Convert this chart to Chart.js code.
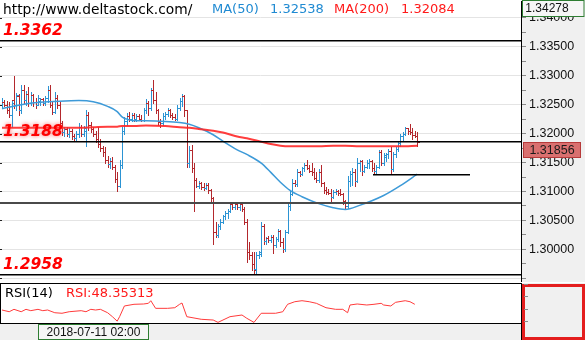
<!DOCTYPE html>
<html>
<head>
<meta charset="utf-8">
<script src="https://cdn.jsdelivr.net/npm/chart.js@4.4.1/dist/chart.umd.min.js"></script>
<style>
  html, body { margin: 0; padding: 0; background: #fff; }
  #wrap { position: relative; width: 585px; height: 340px; overflow: hidden; background: #fff; }
  canvas { position: absolute; left: 0; }
  #main { top: 0; }
  #rsi { top: 283px; }
  .t { position: absolute; font-family: "DejaVu Sans", sans-serif; font-size: 13px; line-height: 16px; white-space: nowrap; }
</style>
</head>
<body>
<div id="wrap">
  <canvas id="main" width="585" height="282"></canvas>
  <canvas id="rsi" width="585" height="57"></canvas>
  <div class="t" style="left:3px;top:1px;color:#000;font-size:13.8px">http://www.deltastock.com/</div>
  <div class="t" style="left:212px;top:1px;color:#1f8ad2">MA(50)</div>
  <div class="t" style="left:270px;top:1px;color:#1f8ad2" id="ma50Read"></div>
  <div class="t" style="left:334px;top:1px;color:#ff1a1a">MA(200)</div>
  <div class="t" style="left:401px;top:1px;color:#ff1a1a" id="ma200Read"></div>
  <div class="t" style="left:5px;top:285px;color:#000">RSI(14)</div>
  <div class="t" style="left:66px;top:285px;color:#ff1a1a" id="rsiRead"></div>
</div>
<script>
// GBP/USD hourly bars
const opens = [
  1.3250,1.3255,1.3250,1.3240,1.3232,1.3258,1.3250,1.3265,1.3240,1.3276,
  1.3258,1.3268,1.3252,1.3266,1.3255,1.3250,1.3256,1.3260,1.3253,1.3262,
  1.3275,1.3250,1.3238,1.3262,1.3250,1.3218,1.3203,1.3208,1.3200,1.3205,
  1.3195,1.3192,1.3200,1.3212,1.3200,1.3205,1.3232,1.3215,1.3208,1.3200,
  1.3190,1.3182,1.3175,1.3168,1.3155,1.3148,1.3152,1.3142,1.3122,1.3110,
  1.3145,1.3205,1.3222,1.3230,1.3226,1.3232,1.3225,1.3230,1.3226,1.3224,
  1.3240,1.3253,1.3245,1.3275,1.3258,1.3240,1.3220,1.3218,1.3230,1.3233,
  1.3240,1.3232,1.3229,1.3226,1.3245,1.3257,1.3265,1.3240,1.3150,1.3172,
  1.3140,1.3120,1.3110,1.3115,1.3108,1.3106,1.3112,1.3102,1.3088,1.3030,
  1.3025,1.3040,1.3048,1.3057,1.3062,1.3067,1.3078,1.3073,1.3078,1.3074,
  1.3078,1.3070,1.3048,1.2995,1.2990,1.2975,1.2966,1.2990,1.2992,1.3040,
  1.3015,1.3020,1.3016,1.3022,1.3008,1.3018,1.3031,1.3012,1.3000,1.3030,
  1.3075,1.3095,1.3115,1.3113,1.3133,1.3130,1.3140,1.3146,1.3141,1.3136,
  1.3133,1.3124,1.3120,1.3133,1.3114,1.3102,1.3099,1.3098,1.3090,1.3099,
  1.3101,1.3097,1.3096,1.3083,1.3075,1.3118,1.3130,1.3133,1.3118,1.3150,
  1.3152,1.3136,1.3142,1.3150,1.3153,1.3140,1.3135,1.3142,1.3168,1.3150,
  1.3160,1.3164,1.3170,1.3138,1.3165,1.3174,1.3184,1.3195,1.3200,1.3209,
  1.3204,1.3202,1.3198,1.3196
];
const highs = [
  1.3262,1.3258,1.3256,1.3254,1.3256,1.3300,1.3270,1.3268,1.3284,1.3284,
  1.3273,1.3281,1.3272,1.3268,1.3262,1.3267,1.3262,1.3262,1.3265,1.3283,
  1.3284,1.3255,1.3272,1.3267,1.3254,1.3222,1.3212,1.3212,1.3210,1.3208,
  1.3200,1.3205,1.3219,1.3215,1.3213,1.3241,1.3238,1.3220,1.3212,1.3205,
  1.3212,1.3190,1.3178,1.3176,1.3162,1.3158,1.3160,1.3145,1.3133,1.3155,
  1.3212,1.3228,1.3236,1.3238,1.3236,1.3235,1.3234,1.3233,1.3232,1.3245,
  1.3259,1.3256,1.3279,1.3293,1.3271,1.3243,1.3225,1.3236,1.3238,1.3245,
  1.3242,1.3236,1.3233,1.3250,1.3262,1.3269,1.3266,1.3241,1.3178,1.3180,
  1.3150,1.3124,1.3118,1.3117,1.3114,1.3115,1.3114,1.3105,1.3091,1.3047,
  1.3043,1.3052,1.3060,1.3066,1.3069,1.3081,1.3081,1.3080,1.3081,1.3081,
  1.3081,1.3074,1.3052,1.3012,1.2996,1.2996,1.2996,1.2998,1.3047,1.3043,
  1.3022,1.3023,1.3024,1.3024,1.3021,1.3035,1.3034,1.3020,1.3034,1.3081,
  1.3100,1.3121,1.3120,1.3138,1.3135,1.3143,1.3150,1.3155,1.3146,1.3150,
  1.3141,1.3133,1.3138,1.3145,1.3117,1.3108,1.3104,1.3105,1.3102,1.3104,
  1.3103,1.3105,1.3098,1.3086,1.3127,1.3136,1.3140,1.3138,1.3157,1.3155,
  1.3154,1.3145,1.3155,1.3156,1.3155,1.3150,1.3145,1.3172,1.3172,1.3167,
  1.3167,1.3174,1.3177,1.3169,1.3177,1.3188,1.3200,1.3203,1.3212,1.3210,
  1.3216,1.3210,1.3204,1.3202
];
const lows = [
  1.3245,1.3248,1.3236,1.3228,1.3212,1.3245,1.3240,1.3232,1.3236,1.3253,
  1.3250,1.3247,1.3250,1.3248,1.3245,1.3249,1.3250,1.3250,1.3250,1.3255,
  1.3246,1.3233,1.3236,1.3245,1.3210,1.3198,1.3196,1.3195,1.3194,1.3190,
  1.3188,1.3187,1.3194,1.3196,1.3196,1.3178,1.3207,1.3203,1.3195,1.3185,
  1.3176,1.3170,1.3162,1.3150,1.3143,1.3140,1.3138,1.3116,1.3101,1.3108,
  1.3140,1.3200,1.3215,1.3222,1.3222,1.3222,1.3221,1.3224,1.3222,1.3222,
  1.3236,1.3232,1.3241,1.3252,1.3236,1.3215,1.3212,1.3215,1.3226,1.3230,
  1.3228,1.3226,1.3223,1.3224,1.3240,1.3248,1.3230,1.3143,1.3143,1.3133,
  1.3066,1.3107,1.3106,1.3105,1.3103,1.3104,1.3098,1.3083,1.3009,1.3021,
  1.3022,1.3035,1.3045,1.3052,1.3055,1.3064,1.3070,1.3070,1.3070,1.3068,
  1.3066,1.3043,1.2979,1.2983,1.2965,1.2958,1.2960,1.2985,1.2988,1.3010,
  1.3010,1.3012,1.3012,1.2993,1.3004,1.3015,1.3005,1.2996,1.2998,1.3028,
  1.3068,1.3094,1.3110,1.3110,1.3127,1.3128,1.3136,1.3138,1.3133,1.3129,
  1.3121,1.3116,1.3117,1.3110,1.3098,1.3095,1.3096,1.3081,1.3088,1.3095,
  1.3094,1.3094,1.3079,1.3069,1.3072,1.3110,1.3112,1.3110,1.3116,1.3136,
  1.3129,1.3133,1.3140,1.3140,1.3136,1.3131,1.3131,1.3140,1.3146,1.3146,
  1.3152,1.3158,1.3131,1.3136,1.3160,1.3170,1.3179,1.3188,1.3197,1.3199,
  1.3200,1.3190,1.3194,1.3178
];
const closes = [
  1.3255,1.3250,1.3240,1.3232,1.3252,1.3250,1.3266,1.3240,1.3276,1.3258,
  1.3268,1.3252,1.3266,1.3255,1.3250,1.3262,1.3260,1.3253,1.3262,1.3275,
  1.3250,1.3238,1.3262,1.3250,1.3218,1.3203,1.3208,1.3200,1.3205,1.3195,
  1.3192,1.3200,1.3212,1.3200,1.3210,1.3232,1.3215,1.3208,1.3200,1.3190,
  1.3182,1.3175,1.3168,1.3155,1.3148,1.3152,1.3142,1.3122,1.3110,1.3145,
  1.3205,1.3222,1.3230,1.3226,1.3232,1.3225,1.3230,1.3226,1.3224,1.3240,
  1.3253,1.3245,1.3275,1.3258,1.3240,1.3220,1.3218,1.3230,1.3233,1.3240,
  1.3232,1.3229,1.3226,1.3245,1.3257,1.3265,1.3240,1.3150,1.3172,1.3140,
  1.3120,1.3110,1.3115,1.3108,1.3106,1.3112,1.3102,1.3088,1.3030,1.3025,
  1.3040,1.3048,1.3057,1.3062,1.3067,1.3078,1.3073,1.3078,1.3074,1.3078,
  1.3070,1.3048,1.2995,1.2990,1.2975,1.2965,1.2990,1.2995,1.3040,1.3015,
  1.3020,1.3016,1.3022,1.3008,1.3018,1.3031,1.3012,1.3000,1.3030,1.3075,
  1.3095,1.3115,1.3113,1.3133,1.3130,1.3140,1.3146,1.3141,1.3136,1.3133,
  1.3124,1.3120,1.3133,1.3114,1.3102,1.3099,1.3098,1.3090,1.3099,1.3101,
  1.3097,1.3096,1.3083,1.3075,1.3118,1.3130,1.3133,1.3118,1.3150,1.3152,
  1.3136,1.3142,1.3150,1.3153,1.3140,1.3135,1.3142,1.3168,1.3150,1.3163,
  1.3164,1.3170,1.3138,1.3165,1.3174,1.3184,1.3195,1.3200,1.3209,1.3204,
  1.3202,1.3198,1.3196,1.31856
];

// moving averages, sampled at these bar numbers
const maBars = [0,8,16,24,32,38,44,48,50,52,55,60,68,74,78,82,88,92,98,102,108,112,116,120,125,132,138,143,149,159,166,173];
const ma50 = [1.3243,1.3250,1.3254,1.3256,1.3257,1.3255,1.3247,1.3238,1.3229,1.3225,1.3222,1.3222,1.3221,1.3219,1.3216,1.3210,
              1.3198,1.3187,1.3172,1.3164,1.3149,1.3133,1.3116,1.3102,1.3091,1.3079,1.3072,1.3069,1.3076,1.3093,1.3110,1.3130];
const ma200 = [1.3210,1.3210,1.3210,1.3210,1.3210,1.3211,1.3212,1.3212,1.3213,1.3213,1.3213,1.3214,1.3213,1.3211,1.3210,1.3208,
               1.3205,1.3202,1.3195,1.3192,1.3186,1.3182,1.3179,1.3178,1.3178,1.3178,1.3179,1.3179,1.3178,1.3178,1.3178,1.3179];

// RSI(14), sampled at these bar numbers
const rsiBars = [0,3,5,8,10,12,15,17,19,22,25,28,33,35,37,39,41,44,46,48,49,51,55,59,61,62,64,69,72,74,75,77,83,88,90,95,100,102,105,108,
                 114,117,119,122,125,128,131,135,139,142,144,145,148,152,155,158,159,162,164,168,170,172];
const rsi = [48.0,45.2,49.1,45.2,49.1,46.9,49.1,46.9,48.0,43.6,42.7,45.2,46.9,45.2,49.1,48.0,49.1,43.6,37.2,30.0,
             37.2,54.5,57.2,57.7,58.8,63.0,50.7,50.7,51.7,57.2,59.3,37.2,33.0,31.8,28.0,37.2,39.9,34.6,28.0,42.7,
             42.7,45.2,57.2,61.4,63.0,61.4,58.8,51.7,49.1,49.1,43.6,56.1,57.7,56.1,57.2,58.8,56.1,54.5,60.4,63.0,61.4,57.2];

// horizontal levels
const labelledLevels = [1.3362, 1.3188, 1.2958];
const supportLevel = 1.3080;
const shortLevel = 1.3131;
const axisTopPrice = 1.34278;
const lastPrice = 1.31856;
const cursorTime = '2018-07-11 02:00';
const cursorMa50 = 1.32538, cursorMa200 = 1.32084, cursorRsi = 48.35313;

document.getElementById('ma50Read').textContent = cursorMa50.toFixed(5);
document.getElementById('ma200Read').textContent = cursorMa200.toFixed(5);
document.getElementById('rsiRead').textContent = 'RSI:' + cursorRsi.toFixed(5);

const UP = '#2b93d3', DOWN = '#b3282d';
const AXIS_W = 64;
const X_MIN = -0.8333, X_MAX = 216.25;
const isMajor = v => Math.abs(v * 200 - Math.round(v * 200)) < 1e-6;

function fixedAxis(scale) {
  scale.width = AXIS_W;
  scale.paddingTop = 0; scale.paddingBottom = 0;
}

const mainDeco = {
  id: 'mainDeco',
  beforeDraw(chart) {
    const { ctx, chartArea: a, width, height } = chart;
    ctx.save();
    ctx.fillStyle = '#fff'; ctx.fillRect(0, 0, width, height);
    ctx.fillStyle = '#f0f0f0'; ctx.fillRect(a.right, 0, width - a.right, height);
    ctx.restore();
  },
  beforeDatasetsDraw(chart) {
    const { ctx, scales: { x, y } } = chart;
    ctx.save();
    for (let i = 0; i < opens.length; i++) {
      const px = Math.round(x.getPixelForValue(i));
      const yo = Math.round(y.getPixelForValue(opens[i]));
      const yh = Math.round(y.getPixelForValue(highs[i]));
      const yl = Math.round(y.getPixelForValue(lows[i]));
      const yc = Math.round(y.getPixelForValue(closes[i]));
      ctx.fillStyle = closes[i] >= opens[i] ? UP : DOWN;
      ctx.fillRect(px, yh, 1, Math.max(1, yl - yh + 1));
      ctx.fillRect(px - 2, yo, 2, 1);
      ctx.fillRect(px + 1, yc, 2, 1);
    }
    ctx.restore();
  },
  afterDatasetsDraw(chart) {
    const { ctx, chartArea: a, scales: { x, y } } = chart;
    ctx.save();
    // support line
    let p = Math.round(y.getPixelForValue(supportLevel));
    ctx.fillStyle = '#4a4a4a';
    ctx.fillRect(a.left, p - 1, a.right - a.left, 2);
    // short level
    p = Math.round(y.getPixelForValue(shortLevel));
    ctx.fillStyle = '#000';
    ctx.fillRect(Math.round(x.getPixelForValue(154.6)), p, Math.round(x.getPixelForValue(195) - x.getPixelForValue(154.6)), 1.5);
    // labelled levels
    labelledLevels.forEach(v => {
      const q = Math.round(y.getPixelForValue(v));
      ctx.fillStyle = '#000';
      ctx.fillRect(a.left, q, a.right - a.left, 1.5);
    });
    ctx.font = 'italic bold 15.5px "DejaVu Sans"';
    ctx.textBaseline = 'alphabetic';
    ctx.fillStyle = '#ff0000';
    labelledLevels.forEach((v, k) => {
      const q = y.getPixelForValue(v);
      if (k === 1) { ctx.shadowColor = 'rgba(255,70,70,0.85)'; ctx.shadowBlur = 4; }
      else { ctx.shadowColor = 'rgba(0,0,0,0)'; ctx.shadowBlur = 0; }
      ctx.fillText(v.toFixed(4), 3, q - 5);
    });
    ctx.restore();
  },
  afterDraw(chart) {
    const { ctx, chartArea: a, scales: { y }, width } = chart;
    ctx.save();
    // small marks on the left edge at the major levels
    ctx.fillStyle = '#222';
    y.ticks.forEach(t => {
      if (isMajor(t.value)) ctx.fillRect(0, Math.round(y.getPixelForValue(t.value)), 2, 1);
    });
    ctx.font = '12px "Liberation Sans"';
    ctx.textBaseline = 'middle';
    ctx.textAlign = 'center';
    // top-of-axis price
    ctx.fillStyle = '#f6f6f6'; ctx.fillRect(a.right + 1, 0, width - a.right - 1, 16);
    ctx.strokeStyle = '#2e7d32'; ctx.lineWidth = 1;
    ctx.strokeRect(a.right + 1.5, 0.5, width - a.right - 2.5, 16);
    ctx.fillStyle = '#111';
    ctx.fillText(axisTopPrice.toFixed(5), a.right + 26, 9);
    // last price
    const py = Math.round(y.getPixelForValue(lastPrice));
    ctx.fillStyle = '#d9706f'; ctx.fillRect(a.right + 2, py, 58, 16);
    ctx.strokeStyle = '#b73a3a'; ctx.strokeRect(a.right + 2.5, py + 0.5, 57, 15);
    ctx.fillStyle = '#1a1a1a';
    ctx.font = '12.5px "Liberation Sans"';
    ctx.fillText(lastPrice.toFixed(5), a.right + 31, py + 8.5);
    ctx.restore();
  }
};

new Chart(document.getElementById('main'), {
  type: 'line',
  data: {
    datasets: [
      { label: 'MA(200)', data: maBars.map((b, k) => ({ x: b, y: ma200[k] })),
        borderColor: 'rgba(255,40,40,0.9)', borderWidth: 2, pointRadius: 0, cubicInterpolationMode: 'monotone' },
      { label: 'MA(50)', data: maBars.map((b, k) => ({ x: b, y: ma50[k] })),
        borderColor: '#3d9ad8', borderWidth: 1.5, pointRadius: 0, cubicInterpolationMode: 'monotone' }
    ]
  },
  options: {
    responsive: false, animation: false, devicePixelRatio: 1,
    layout: { padding: { top: 1, bottom: 1, left: 0, right: 0 } },
    plugins: { legend: { display: false }, tooltip: { enabled: false } },
    scales: {
      x: { type: 'linear', min: X_MIN, max: X_MAX, display: false },
      y: {
        position: 'right', min: 1.29454, max: 1.3429,
        afterFit: fixedAxis,
        border: { display: true, color: '#000', width: 1 },
        grid: {
          color: c => (c.tick && isMajor(c.tick.value)) ? '#e4e4e4' : 'rgba(0,0,0,0)',
          tickColor: '#8a8a8a', tickLength: 5, lineWidth: 1
        },
        ticks: {
          stepSize: 0.0025, includeBounds: false, autoSkip: false, padding: 3,
          color: '#111', font: { family: 'Liberation Sans', size: 12.5 },
          callback: v => (isMajor(v) && v > 1.297) ? v.toFixed(5) : ''
        }
      }
    }
  },
  plugins: [mainDeco]
});

const rsiDeco = {
  id: 'rsiDeco',
  beforeDraw(chart) {
    const { ctx, chartArea: a, width, height } = chart;
    ctx.save();
    ctx.fillStyle = '#fff'; ctx.fillRect(0, 0, width, height);
    ctx.fillStyle = '#f0f0f0';
    ctx.fillRect(0, a.bottom, a.right, height - a.bottom);
    ctx.fillRect(a.right, 0, width - a.right, height);
    ctx.restore();
  },
  afterDraw(chart) {
    const { ctx, chartArea: a, scales: { y }, width, height } = chart;
    ctx.save();
    ctx.fillStyle = '#000';
    ctx.fillRect(0, 0, a.right + 1, 1);
    ctx.fillRect(0, a.bottom, a.right + 1, 1);
    ctx.fillRect(0, 0, 1, a.bottom);
    ctx.fillRect(a.right, 0, 1, height);
    // axis box
    ctx.strokeStyle = '#e41e1e'; ctx.lineWidth = 3;
    ctx.strokeRect(a.right + 2.5, 2.5, width - a.right - 4, height - 4);
    ctx.fillStyle = '#8a8a8a';
    [30, 50, 70, 90].forEach(v => ctx.fillRect(a.right + 3, Math.round(y.getPixelForValue(v)), 4, 1));
    // time label
    ctx.fillStyle = '#f6f6f6'; ctx.fillRect(38, a.bottom + 1, 111, height - a.bottom - 1);
    ctx.strokeStyle = '#2e7d32'; ctx.lineWidth = 1;
    ctx.strokeRect(38.5, a.bottom + 1.5, 110, height - a.bottom - 2);
    ctx.fillStyle = '#111';
    ctx.font = '12px "Liberation Sans"';
    ctx.textBaseline = 'middle'; ctx.textAlign = 'center';
    ctx.fillText(cursorTime, 93.5, a.bottom + 9.5);
    ctx.restore();
  }
};

new Chart(document.getElementById('rsi'), {
  type: 'line',
  data: {
    datasets: [{ label: 'RSI(14)', data: rsiBars.map((b, k) => ({ x: b, y: rsi[k] })),
      borderColor: '#ff3b3b', borderWidth: 1, pointRadius: 0, tension: 0 }]
  },
  options: {
    responsive: false, animation: false, devicePixelRatio: 1,
    layout: { padding: { top: 1, bottom: 17, left: 0, right: 0 } },
    plugins: { legend: { display: false }, tooltip: { enabled: false } },
    scales: {
      x: { type: 'linear', min: X_MIN, max: X_MAX, display: false },
      y: {
        position: 'right', min: 27, max: 90, afterFit: fixedAxis,
        border: { display: false }, grid: { display: false }, ticks: { display: false }
      }
    }
  },
  plugins: [rsiDeco]
});
</script>
</body>
</html>
